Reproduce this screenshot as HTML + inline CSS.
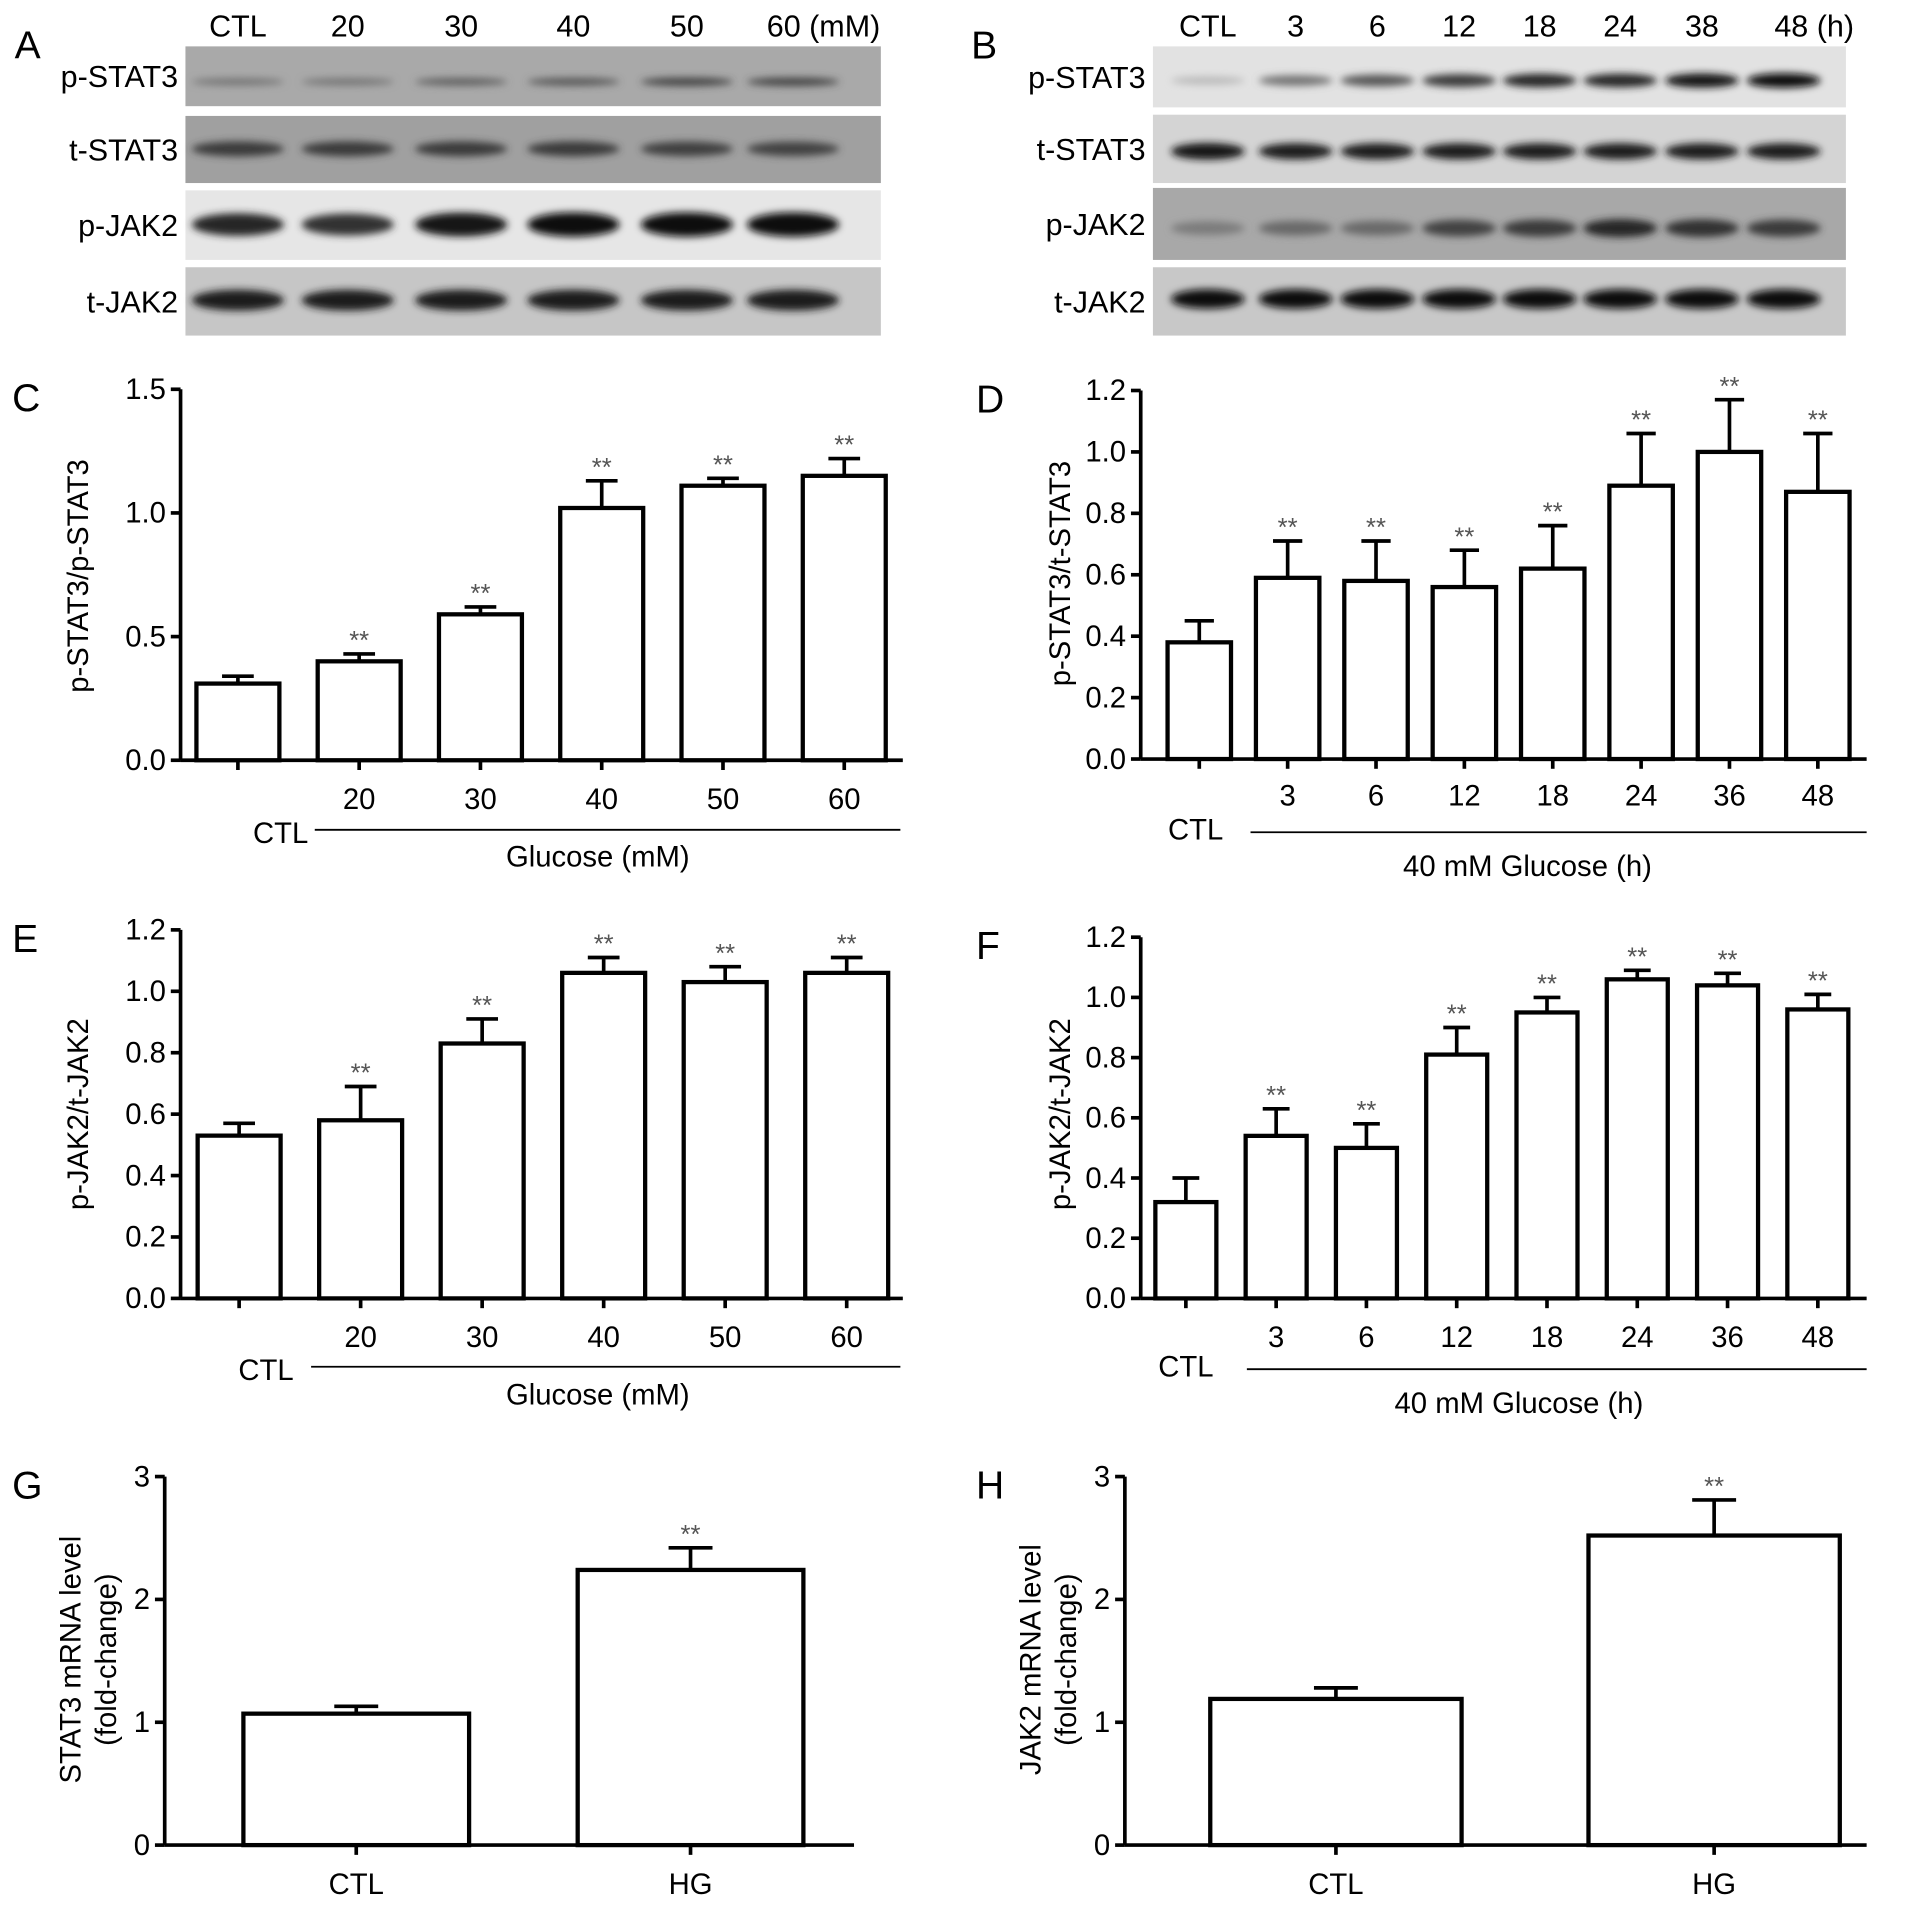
<!DOCTYPE html>
<html><head><meta charset="utf-8"><style>
html,body{margin:0;padding:0;background:#fff;width:1913px;height:1911px;overflow:hidden}
svg{display:block;font-family:"Liberation Sans",Arial,sans-serif}
</style></head><body>
<svg id="fig" width="1913" height="1911" viewBox="0 0 1568 1566" preserveAspectRatio="none" xmlns="http://www.w3.org/2000/svg">
<defs>
<filter id="blur" x="-20%" y="-100%" width="140%" height="300%"><feGaussianBlur stdDeviation="3"/></filter>
</defs>
<g id="blots"></g>
<g id="charts"></g>
</svg>
<script>
// ---- Western blot data ----
const blotALanes = ["CTL","20","30","40","50","60 (mM)"];
const blotALaneX = [195,285,378,470,563,650];
const blotAIntensity = {
  pSTAT3:[0.45,0.45,0.55,0.6,0.7,0.7],
  tSTAT3:[0.75,0.75,0.75,0.75,0.72,0.7],
  pJAK2:[0.85,0.8,0.95,1,1,1],
  tJAK2:[0.9,0.9,0.9,0.9,0.9,0.9]
};
const blotBLanes = ["CTL","3","6","12","18","24","38","48 (h)"];
const blotBLaneX = [990,1062,1129,1196,1262,1328,1395,1462];
const blotBIntensity = {
  pSTAT3:[0.08,0.45,0.6,0.75,0.85,0.85,0.95,1],
  tSTAT3:[0.95,0.9,0.9,0.9,0.9,0.9,0.9,0.9],
  pJAK2:[0.4,0.5,0.5,0.7,0.75,0.85,0.8,0.75],
  tJAK2:[1,1,1,1,1,1,1,1]
};

// ---- Chart data ----
const cCats = ["","20","30","40","50","60"];
const cVals = [0.31,0.40,0.59,1.02,1.11,1.15];
const cErrs = [0.03,0.03,0.03,0.11,0.03,0.07];
const cSig  = [false,true,true,true,true,true];
const cTicks = [0,0.5,1.0,1.5];

const dCats = ["","3","6","12","18","24","36","48"];
const dVals = [0.38,0.59,0.58,0.56,0.62,0.89,1.00,0.87];
const dErrs = [0.07,0.12,0.13,0.12,0.14,0.17,0.17,0.19];
const dSig  = [false,true,true,true,true,true,true,true];
const dTicks = [0,0.2,0.4,0.6,0.8,1.0,1.2];

const eCats = ["","20","30","40","50","60"];
const eVals = [0.53,0.58,0.83,1.06,1.03,1.06];
const eErrs = [0.04,0.11,0.08,0.05,0.05,0.05];
const eSig  = [false,true,true,true,true,true];
const eTicks = [0,0.2,0.4,0.6,0.8,1.0,1.2];

const fCats = ["","3","6","12","18","24","36","48"];
const fVals = [0.32,0.54,0.50,0.81,0.95,1.06,1.04,0.96];
const fErrs = [0.08,0.09,0.08,0.09,0.05,0.03,0.04,0.05];
const fSig  = [false,true,true,true,true,true,true,true];
const fTicks = [0,0.2,0.4,0.6,0.8,1.0,1.2];

const gCats = ["CTL","HG"];
const gVals = [1.07,2.24];
const gErrs = [0.06,0.18];
const gSig  = [false,true];
const gTicks = [0,1,2,3];

const hCats = ["CTL","HG"];
const hVals = [1.19,2.52];
const hErrs = [0.09,0.29];
const hSig  = [false,true];
const hTicks = [0,1,2,3];

const NS="http://www.w3.org/2000/svg";
function mk(tag, attrs, parent, text){
  const el=document.createElementNS(NS,tag);
  for(const k in attrs) el.setAttribute(k,attrs[k]);
  if(text!==undefined) el.textContent=text;
  parent.appendChild(el);
  return el;
}
const blots=document.getElementById('blots');
const charts=document.getElementById('charts');

function blot(letter, lx, x0, x1, lanes, laneX, inten, rows){
  const g=mk('g',{},blots);
  
  
  const L=mk('text',{x:lx,y:48,'font-size':32},g,letter);
  
  
  lanes.forEach((t,i)=>{
    const tx=mk('text',{x:laneX[i]+(i===lanes.length-1?(t.length>3?25:12):0),y:30,'font-size':25,'text-anchor':'middle'},g,t);
    
    
  });
  const spacing=laneX[1]-laneX[0];
  rows.forEach(r=>{
    const rg=mk('g',{},g);
    
    
    mk('rect',{x:x0,y:r.y0,width:x1-x0,height:r.y1-r.y0,fill:r.bg},rg);
    const lab=mk('text',{x:x0-6,y:(r.y0+r.y1)/2+9,'font-size':25,'text-anchor':'end'},rg,r.label);
    
    
    inten[r.key].forEach((v,i)=>{
      const c=Math.round(200-190*v);
      const b=mk('ellipse',{cx:laneX[i],cy:r.by,rx:spacing*0.42,ry:r.bh*(0.5+0.5*v),fill:`rgb(${c},${c},${c})`,filter:'url(#blur)'},rg);
      
      
    });
  });
}
blot('A',12,152,722,blotALanes,blotALaneX,blotAIntensity,[
  {key:'pSTAT3',label:'p-STAT3',y0:38,y1:87,bg:'#a9a9a9',by:67,bh:4},
  {key:'tSTAT3',label:'t-STAT3',y0:95,y1:150,bg:'#a0a0a0',by:122,bh:7},
  {key:'pJAK2',label:'p-JAK2',y0:156,y1:213,bg:'#e6e6e6',by:184,bh:10},
  {key:'tJAK2',label:'t-JAK2',y0:219,y1:275,bg:'#c6c6c6',by:246,bh:9}
]);
blot('B',796,945,1513,blotBLanes,blotBLaneX,blotBIntensity,[
  {key:'pSTAT3',label:'p-STAT3',y0:38,y1:88,bg:'#e2e2e2',by:66,bh:6},
  {key:'tSTAT3',label:'t-STAT3',y0:94,y1:150,bg:'#d4d4d4',by:124,bh:7},
  {key:'pJAK2',label:'p-JAK2',y0:154,y1:213,bg:'#a8a8a8',by:187,bh:8},
  {key:'tJAK2',label:'t-JAK2',y0:219,y1:275,bg:'#c8c8c8',by:245,bh:8}
]);

function chart(o){
  const g=mk('g',{},charts);
  
  
  const tmax=o.ticks[o.ticks.length-1];
  const y=v=>o.y0-(v/tmax)*(o.y0-o.ytop);
  const L=mk('text',{x:o.lx,y:o.ytop+18,'font-size':32},g,o.letter);
  
  
  const ya=mk('line',{x1:o.ax,y1:o.y0,x2:o.ax,y2:y(tmax),stroke:'#000','stroke-width':3},g);
  
  
  o.ticks.forEach(t=>{
    mk('line',{x1:o.ax-8,x2:o.ax,y1:y(t),y2:y(t),stroke:'#000','stroke-width':3},g);
    const tl=mk('text',{x:o.ax-12,y:y(t)+8,'font-size':24,'text-anchor':'end'},g,o.fmt(t));
    
    
  });
  const xa=mk('line',{x1:o.ax,y1:o.y0,x2:o.xend,y2:o.y0,stroke:'#000','stroke-width':3},g);
  
  
  const n=o.vals.length;
  const step=(o.cLast-o.cFirst)/(n-1);
  const cx=i=>o.cFirst+i*step;
  o.vals.forEach((v,i)=>{
    const x=cx(i);
    const eb=mk('line',{x1:x,x2:x,y1:y(v),y2:y(v+o.errs[i]),stroke:'#000','stroke-width':3},g);
    
    
    mk('line',{x1:x-o.cap,x2:x+o.cap,y1:y(v+o.errs[i]),y2:y(v+o.errs[i]),stroke:'#000','stroke-width':3},g);
    const r=mk('rect',{x:x-o.bw/2,y:y(v),width:o.bw,height:o.y0-y(v),fill:'#fff',stroke:'#000','stroke-width':3.5},g);
    
    
    mk('line',{x1:x,x2:x,y1:o.y0,y2:o.y0+8,stroke:'#000','stroke-width':3},g);
    if(o.sig[i]){
      const s=mk('text',{x:x,y:y(v+o.errs[i])-4,'font-size':21,'text-anchor':'middle',fill:'#555'},g,'**');
      
      
    }
    if(o.cats[i]!==''){
      const xl=mk('text',{x:x,y:o.catY,'font-size':24,'text-anchor':'middle'},g,o.cats[i]);
      
      
    }
  });
  if(o.ctl){
    const c=mk('text',{x:o.ctl[0],y:o.ctl[1],'font-size':24,'text-anchor':'middle'},g,'CTL');
    
    
    mk('line',{x1:o.ul[0],x2:o.ul[1],y1:o.ul[2],y2:o.ul[2],stroke:'#000','stroke-width':1.5},g);
    const t=mk('text',{x:o.title[0],y:o.title[1],'font-size':24,'text-anchor':'middle'},g,o.title[2]);
    
    
  }
  o.ylab.forEach((l,k)=>{
    const yt=mk('text',{x:0,y:0,'font-size':24,'text-anchor':'middle',transform:`translate(${o.ylx+k*29},${o.yly}) rotate(-90)`},g,l);
    
    
  });
}
const f1=t=>t.toFixed(1), f0=t=>String(t);
chart({letter:'C',lx:10,ax:148,y0:623,ytop:319,xend:740,ticks:cTicks,fmt:f1,vals:cVals,errs:cErrs,sig:cSig,cats:cCats,
  cFirst:195,cLast:692,bw:68,cap:13,catY:663,ctl:[230,691],ul:[258,738,680],title:[490,710,'Glucose (mM)'],ylab:['p-STAT3/p-STAT3'],ylx:72,yly:472});
chart({letter:'D',lx:800,ax:935,y0:622,ytop:320,xend:1530,ticks:dTicks,fmt:f1,vals:dVals,errs:dErrs,sig:dSig,cats:dCats,
  cFirst:983,cLast:1490,bw:52,cap:12,catY:660,ctl:[980,688],ul:[1025,1530,682],title:[1252,718,'40 mM Glucose (h)'],ylab:['p-STAT3/t-STAT3'],ylx:877,yly:470});
chart({letter:'E',lx:10,ax:148,y0:1064,ytop:762,xend:740,ticks:eTicks,fmt:f1,vals:eVals,errs:eErrs,sig:eSig,cats:eCats,
  cFirst:196,cLast:694,bw:68,cap:13,catY:1104,ctl:[218,1131],ul:[255,738,1120],title:[490,1151,'Glucose (mM)'],ylab:['p-JAK2/t-JAK2'],ylx:72,yly:913});
chart({letter:'F',lx:800,ax:935,y0:1064,ytop:768,xend:1530,ticks:fTicks,fmt:f1,vals:fVals,errs:fErrs,sig:fSig,cats:fCats,
  cFirst:972,cLast:1490,bw:50,cap:11,catY:1104,ctl:[972,1128],ul:[1022,1530,1122],title:[1245,1158,'40 mM Glucose (h)'],ylab:['p-JAK2/t-JAK2'],ylx:877,yly:913});
chart({letter:'G',lx:10,ax:135,y0:1512,ytop:1210,xend:700,ticks:gTicks,fmt:f0,vals:gVals,errs:gErrs,sig:gSig,cats:gCats,
  cFirst:292,cLast:566,bw:185,cap:18,catY:1552,ylab:['STAT3 mRNA level','(fold-change)'],ylx:66,yly:1360});
chart({letter:'H',lx:800,ax:922,y0:1512,ytop:1210,xend:1530,ticks:hTicks,fmt:f0,vals:hVals,errs:hErrs,sig:hSig,cats:hCats,
  cFirst:1095,cLast:1405,bw:206,cap:18,catY:1552,ylab:['JAK2 mRNA level','(fold-change)'],ylx:853,yly:1360});
</script>
</body></html>
